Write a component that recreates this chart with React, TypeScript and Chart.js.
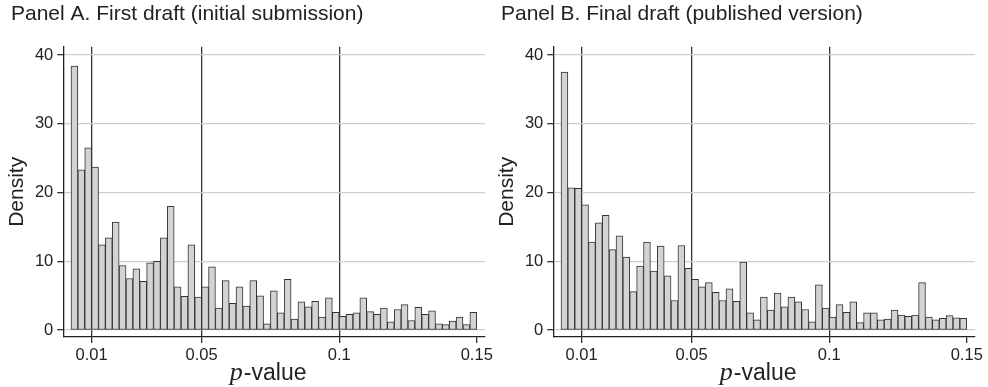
import React, { useEffect, useRef } from "react";
import { Chart, registerables } from "chart.js";

Chart.register(...registerables);

const SANS = '"Liberation Sans", Arial, Helvetica, sans-serif';
Chart.defaults.font.family = SANS;

// Histogram bins: width 0.0025, first bin starts at 0.0025, last ends at 0.15
const BIN_WIDTH = 0.0025;
const FIRST_BIN_START = 0.0025;

const PANEL_TITLES = [
  "Panel A. First draft (initial submission)",
  "Panel B. Final draft (published version)",
];

const PANEL_A_DENSITY = [
  38.4, 23.3, 26.5, 23.7, 12.4, 13.4, 15.7, 9.4, 7.5, 8.9,
  7.1, 9.8, 10.0, 13.4, 18.0, 6.3, 4.9, 12.4, 4.8, 6.3,
  9.2, 3.2, 7.2, 3.9, 6.3, 3.5, 7.2, 5.0, 0.9, 5.7,
  2.5, 7.4, 1.6, 4.1, 3.4, 4.2, 1.9, 4.7, 2.6, 2.0,
  2.3, 2.5, 4.7, 2.7, 2.3, 3.2, 1.2, 3.0, 3.7, 1.4,
  3.3, 2.3, 2.8, 0.9, 0.8, 1.3, 1.9, 0.8, 2.6,
];

const PANEL_B_DENSITY = [
  37.5, 20.7, 20.6, 18.2, 12.8, 15.6, 16.7, 11.7, 13.7, 10.6,
  5.6, 9.3, 12.8, 8.6, 12.2, 7.9, 4.3, 12.3, 9.0, 7.4,
  6.3, 6.9, 5.5, 4.3, 6.0, 4.2, 9.9, 2.5, 1.5, 4.8,
  2.9, 5.4, 3.4, 4.8, 4.1, 3.0, 1.2, 6.6, 3.2, 1.9,
  3.7, 2.6, 4.1, 1.1, 2.5, 2.5, 1.5, 1.6, 2.9, 2.2,
  2.0, 2.2, 6.9, 1.9, 1.5, 1.7, 2.1, 1.8, 1.7,
];

const X_TICKS = [0.01, 0.05, 0.1, 0.15];
const X_TICK_LABELS = ["0.01", "0.05", "0.1", "0.15"];
const REF_LINES = [0.01, 0.05, 0.1];
const Y_TICKS = [0, 10, 20, 30, 40];
const Y_TICK_LABELS = ["0", "10", "20", "30", "40"];

const X_MIN = -0.0003;
const X_MAX = 0.153;
const Y_MIN = -1;
const Y_MAX = 41.2;

const TEXT = "#222222";
const DARK = "#333333";

const xLabelPlugin = {
  id: "pvalueLabel",
  afterDraw(chart: any) {
    const { ctx, chartArea } = chart;
    ctx.save();
    ctx.fillStyle = TEXT;
    ctx.textBaseline = "alphabetic";
    const pFont = 'italic 26px "Liberation Serif", "DejaVu Serif", serif';
    const restFont = "23px " + SANS;
    ctx.font = pFont;
    const wp = ctx.measureText("p").width;
    ctx.font = restFont;
    const wr = ctx.measureText("-value").width;
    const cx = (chartArea.left + chartArea.right) / 2 - 6;
    const x0 = cx - (wp + wr + 1) / 2;
    const y = 380;
    ctx.font = pFont;
    ctx.fillText("p", x0, y);
    ctx.font = restFont;
    ctx.fillText("-value", x0 + wp + 1, y);
    ctx.restore();
  },
};

function Panel({ title, values, left }: { title: string; values: number[]; left: number }) {
  const ref = useRef<HTMLCanvasElement | null>(null);

  useEffect(() => {
    if (!ref.current) return;
    const points = values.map((v, i) => ({
      x: FIRST_BIN_START + (i + 0.5) * BIN_WIDTH,
      y: v,
    }));
    const chart = new Chart(ref.current, {
      type: "bar",
      data: {
        datasets: [
          {
            data: points as any,
            backgroundColor: "#d3d3d3",
            borderColor: DARK,
            borderWidth: 1,
            borderSkipped: false,
            barPercentage: 1,
            categoryPercentage: 1,
          } as any,
        ],
      },
      options: {
        responsive: false,
        animation: false,
        layout: { padding: { left: 11, right: 9, top: 0, bottom: 0 } },
        plugins: {
          legend: { display: false },
          tooltip: { enabled: false },
          title: {
            display: true,
            text: title,
            align: "start",
            color: TEXT,
            font: { size: 21, lineHeight: 1.2, weight: "normal" },
            padding: { top: 1.5, bottom: 20 },
          },
        },
        scales: {
          x: {
            type: "linear",
            min: X_MIN,
            max: X_MAX,
            offset: false,
            grid: {
              offset: false,
              drawOnChartArea: true,
              color: (c: any) =>
                c.tick && REF_LINES.includes(c.tick.value) ? DARK : "rgba(0,0,0,0)",
              lineWidth: 1.3,
              tickColor: DARK,
              tickLength: 6,
            },
            border: { display: true, color: TEXT, width: 1.3 },
            ticks: {
              padding: 3,
              color: TEXT,
              font: { size: 16.5 },
              autoSkip: false,
              maxRotation: 0,
              callback: (v: any) => {
                const i = X_TICKS.indexOf(Number(v));
                return i >= 0 ? X_TICK_LABELS[i] : "";
              },
            },
            afterBuildTicks: (s: any) => {
              s.ticks = X_TICKS.map((v) => ({ value: v }));
            },
            afterFit: (s: any) => {
              s.height = 50;
              s.paddingLeft = 0;
              s.paddingRight = 0;
            },
          } as any,
          y: {
            type: "linear",
            min: Y_MIN,
            max: Y_MAX,
            grid: {
              color: "#cfcfcf",
              lineWidth: 1.3,
              tickColor: DARK,
              tickLength: 6,
            },
            border: { display: true, color: TEXT, width: 1.3 },
            ticks: {
              padding: 4,
              color: TEXT,
              font: { size: 16.5 },
              callback: (v: any) => {
                const i = Y_TICKS.indexOf(Number(v));
                return i >= 0 ? Y_TICK_LABELS[i] : "";
              },
            },
            afterBuildTicks: (s: any) => {
              s.ticks = Y_TICKS.map((v) => ({ value: v }));
            },
            afterFit: (s: any) => {
              s.width = 52.3;
              s.paddingTop = 0;
              s.paddingBottom = 0;
            },
            title: {
              display: true,
              text: "Density",
              color: TEXT,
              font: { size: 21, lineHeight: 1 },
              padding: { top: -3.8, bottom: 0 },
            },
          } as any,
        },
      },
      plugins: [xLabelPlugin],
    });
    return () => chart.destroy();
  }, [title, values]);

  return (
    <canvas
      ref={ref}
      width={494}
      height={387}
      style={{ position: "absolute", left, top: 0, width: 494, height: 387 }}
    />
  );
}

export default function App() {
  return (
    <div
      style={{
        position: "fixed",
        left: 0,
        top: 0,
        width: 988,
        height: 387,
        background: "#ffffff",
        overflow: "hidden",
      }}
    >
      <Panel title={PANEL_TITLES[0]} values={PANEL_A_DENSITY} left={0} />
      <Panel title={PANEL_TITLES[1]} values={PANEL_B_DENSITY} left={490} />
    </div>
  );
}
